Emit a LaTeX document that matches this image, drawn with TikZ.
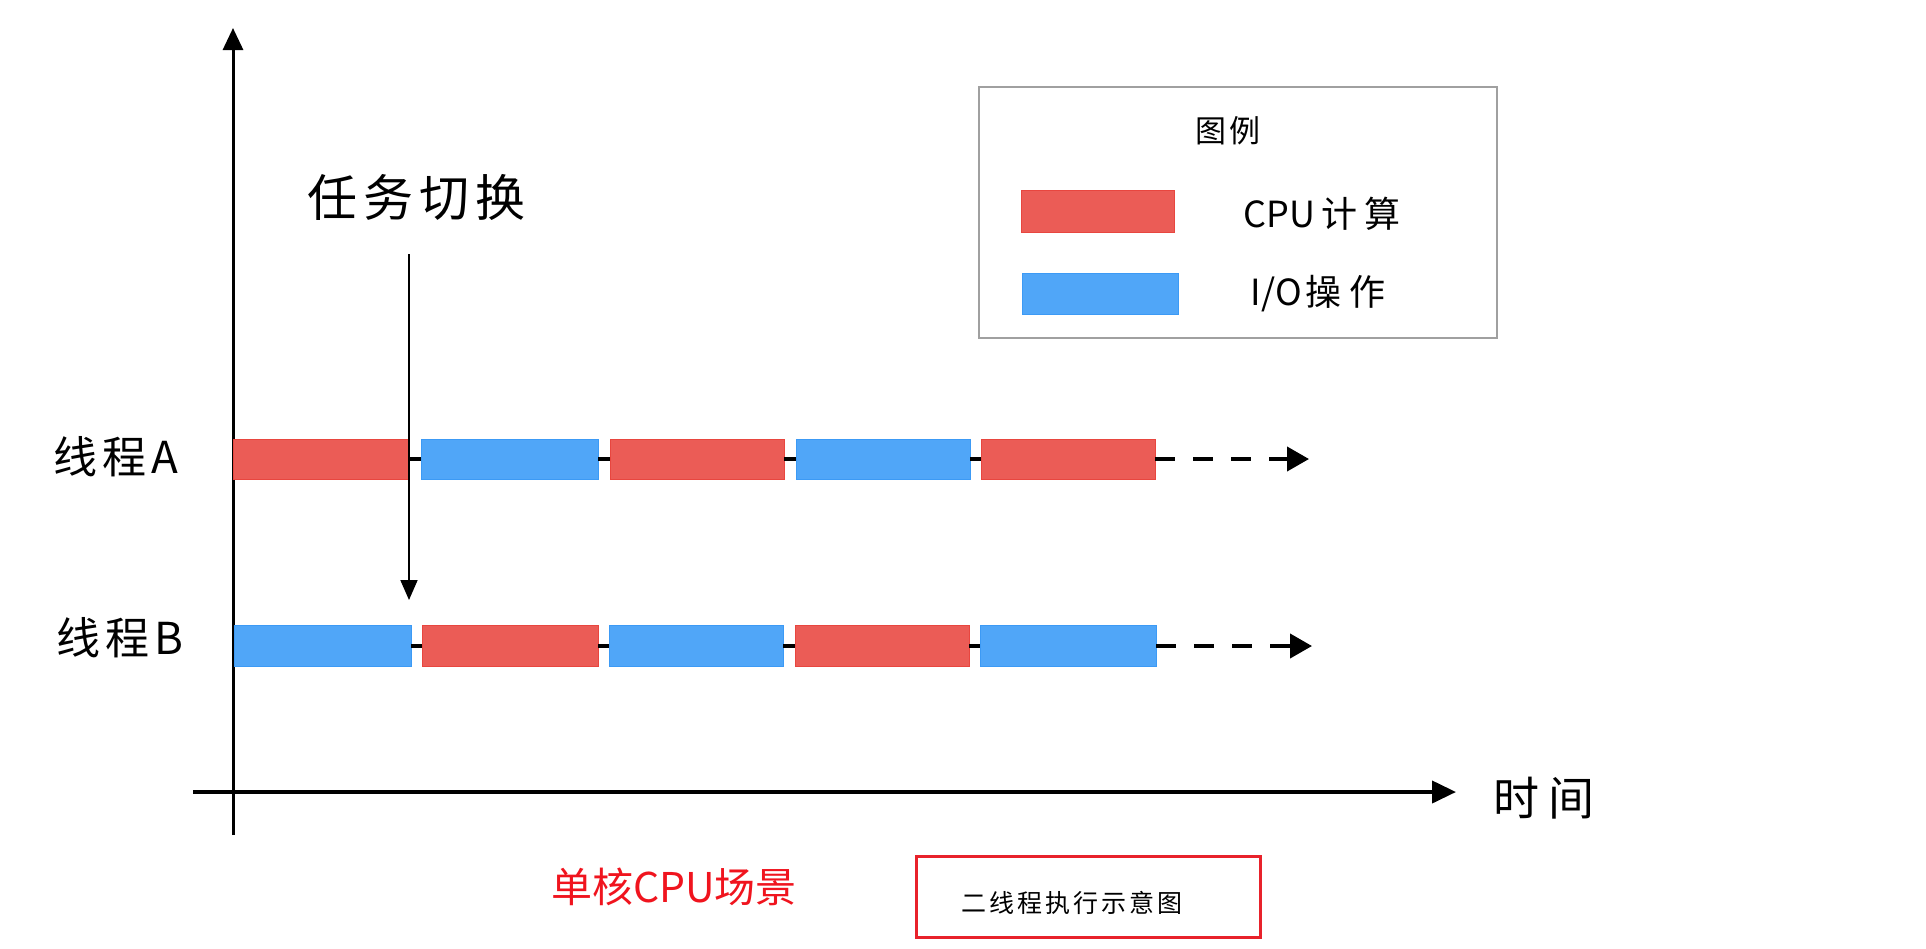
\documentclass[tikz,border=0pt]{standalone}
\usepackage{fontspec}
\setmainfont{Noto Sans CJK SC}
\newfontfamily\cjk{Noto Sans CJK SC}
\newfontfamily\cjkw[LetterSpace=12]{Noto Sans CJK SC}
\newfontfamily\cjkww[LetterSpace=20]{Noto Sans CJK SC}
\usetikzlibrary{arrows.meta}
\definecolor{cpured}{HTML}{EB5C56}
\definecolor{cpuredline}{HTML}{E8463F}
\definecolor{ioblue}{HTML}{50A6F8}
\definecolor{iobludeline}{HTML}{3C9AF5}
\definecolor{capred}{HTML}{F0141E}
\definecolor{boxred}{HTML}{E8222B}
\definecolor{legendgray}{HTML}{A0A0A0}
\newcommand{\fs}[1]{\fontsize{#1}{#1}\selectfont}
\tikzset{
  cpubar/.style={rectangle, fill=cpured, draw=cpuredline, line width=0.8pt, inner sep=0pt, minimum height=40},
  iobar/.style={rectangle, fill=ioblue, draw=iobludeline, line width=0.8pt, inner sep=0pt, minimum height=40},
  conn/.style={line width=4pt, black},
  dasharrow/.style={line width=4pt, black, dash pattern=on 20pt off 18pt, -{Triangle[length=22pt,width=24pt]}},
  axis/.style={line width=3pt, black, -{Triangle[length=22pt,width=20pt]}},
  switcharrow/.style={line width=1.8pt, black, -{Triangle[length=20pt,width=17pt]}},
  lbl/.style={inner sep=0pt, font=\cjkw\fs{44}},
}
\begin{document}
\begin{tikzpicture}[x=1pt,y=-1pt]
\useasboundingbox[fill=white] (0,0) rectangle (1926,948);

% axes
\coordinate (ybot) at (233,835);
\coordinate (ytop) at (233,28);
\coordinate (xleft) at (193,792);
\coordinate (xright) at (1456,792);
\draw[axis] (ybot) -- (ytop);
\draw[axis, line width=4pt, -{Triangle[length=24pt,width=22pt]}] (xleft) -- (xright);

% row A
\node[cpubar, minimum width=175] (a1) at (320.5,459) {};
\node[iobar,  minimum width=177] (a2) at (509.5,459) {};
\node[cpubar, minimum width=174] (a3) at (697,459) {};
\node[iobar,  minimum width=174] (a4) at (883,459) {};
\node[cpubar, minimum width=174] (a5) at (1068,459) {};
\coordinate (aend) at (1309,459);
\draw[conn] (a1.east) -- (a2.west);
\draw[conn] (a2.east) -- (a3.west);
\draw[conn] (a3.east) -- (a4.west);
\draw[conn] (a4.east) -- (a5.west);
\draw[dasharrow] (a5.east) -- (aend);

% row B
\node[iobar,  minimum width=177, minimum height=41] (b1) at (322.5,646) {};
\node[cpubar, minimum width=176, minimum height=41] (b2) at (510,646) {};
\node[iobar,  minimum width=174, minimum height=41] (b3) at (696,646) {};
\node[cpubar, minimum width=174, minimum height=41] (b4) at (882,646) {};
\node[iobar,  minimum width=176, minimum height=41] (b5) at (1068,646) {};
\coordinate (bend) at (1312,646);
\draw[conn] (b1.east) -- (b2.west);
\draw[conn] (b2.east) -- (b3.west);
\draw[conn] (b3.east) -- (b4.west);
\draw[conn] (b4.east) -- (b5.west);
\draw[dasharrow] (b5.east) -- (bend);

% task switch
\node[lbl, font=\cjkw\fs{50}] (switch) at (416,197) {任务切换};
\coordinate (swtop) at (409,254);
\coordinate (swbot) at (409,600);
\draw[switcharrow] (swtop) -- (swbot);

% thread labels
\node[lbl] (ta) at (116,457) {线程A};
\node[lbl] (tb) at (120,638) {线程B};

% time label
\node[lbl, font=\cjkww\fs{46}] (time) at (1544,798) {时间};

% legend
\node[draw=legendgray, line width=2pt, minimum width=518, minimum height=251, inner sep=0pt] (legend) at (1238,212.5) {};
\node[lbl, font=\cjkw\fs{31}] (legtitle) at (1228,131) {图例};
\node[cpubar, minimum width=153, minimum height=42] (legred) at (1097.5,211) {};
\node[iobar, minimum width=156, minimum height=41] (legblue) at (1100,293.5) {};
\node[lbl, font=\cjkww\fs{36}] (legcpu) at (1322,214) {{\cjk CPU\hspace{6pt}}计算};
\node[lbl, font=\cjkww\fs{36}] (legio) at (1318,294) {{\cjk I/O\hspace{4pt}}操作};

% caption
\node[inner sep=0pt, text=capred, font=\cjk\fs{41}] (scene) at (674,887) {单核CPU场景};
\node[draw=boxred, line width=3pt, minimum width=344, minimum height=81, inner sep=0pt] (capbox) at (1088,896.5) {};
\node[inner sep=0pt, font=\cjkw\fs{25}] (captext) at (1072,903) {二线程执行示意图};
\end{tikzpicture}
\end{document}
